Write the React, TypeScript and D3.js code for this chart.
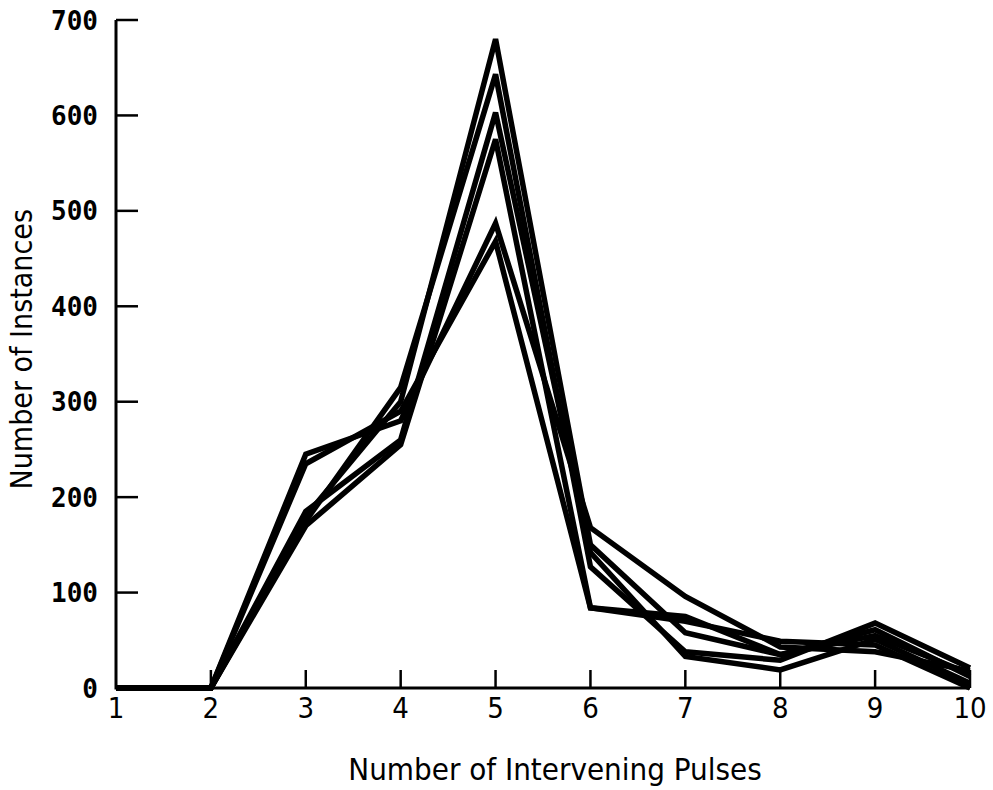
import React from "react";
import * as d3 from "d3";

const pulses = [1, 2, 3, 4, 5, 6, 7, 8, 9, 10];
const yTicks = [0, 100, 200, 300, 400, 500, 600, 700];

// one array per run
const run1 = [0, 0, 180, 300, 680, 150, 58, 35, 61, 12];
const run2 = [0, 0, 175, 315, 643, 127, 38, 29, 68, 21];
const run3 = [0, 0, 185, 260, 603, 142, 33, 19, 51, 5];
const run4 = [0, 0, 170, 255, 575, 84, 70, 49, 45, 0];
const run5 = [0, 0, 245, 280, 487, 168, 96, 43, 38, 18];
const run6 = [0, 0, 235, 290, 468, 84, 75, 35, 55, 15];

const runs = [run1, run2, run3, run4, run5, run6];

const W = 993;
const H = 790;

const App = () => {
  const x = d3.scaleLinear().domain([1, 10]).range([116, 970]);
  const y = d3.scaleLinear().domain([0, 700]).range([688, 20]);

  const line = d3
    .line<number>()
    .x((_, i) => x(pulses[i]))
    .y((d) => y(d));

  const font = "'DejaVu Sans Condensed', 'DejaVu Sans', sans-serif";

  return (
    <svg
      width={W}
      height={H}
      style={{ position: "absolute", left: 0, top: 0, background: "#fff" }}
    >
      {/* axes */}
      <path
        d={`M${x(1)},${y(700)}V${y(0)}H${x(10)}`}
        fill="none"
        stroke="#000"
        strokeWidth={3}
      />
      {yTicks.map((t) => (
        <g key={t}>
          <line x1={x(1)} x2={x(1) + 22} y1={y(t)} y2={y(t)} stroke="#000" strokeWidth={2.5} />
          <text
            x={98}
            y={y(t)}
            dy="0.37em"
            textAnchor="end"
            fontFamily="'DejaVu Sans Mono', monospace"
            fontWeight="bold"
            fontSize={26}
          >
            {t}
          </text>
        </g>
      ))}
      {pulses.map((p) => (
        <g key={p}>
          {p > 1 && (
            <line x1={x(p)} x2={x(p)} y1={y(0)} y2={y(0) - 18} stroke="#000" strokeWidth={2.5} />
          )}
          <text
            x={x(p)}
            y={718}
            textAnchor="middle"
            fontFamily={font}
            fontSize={29}
          >
            {p}
          </text>
        </g>
      ))}

      {/* data */}
      {runs.map((r, i) => (
        <path
          key={i}
          d={line(r) || ""}
          fill="none"
          stroke="#000"
          strokeWidth={5.5}
          strokeLinejoin="miter"
        />
      ))}

      {/* titles */}
      <text
        x={555}
        y={780}
        textAnchor="middle"
        fontFamily={font}
        fontSize={31}
      >
        Number of Intervening Pulses
      </text>
      <text
        transform={`translate(32,${y(355)}) rotate(-90)`}
        textAnchor="middle"
        fontFamily={font}
        fontSize={30}
      >
        Number of Instances
      </text>
    </svg>
  );
};

export default App;
